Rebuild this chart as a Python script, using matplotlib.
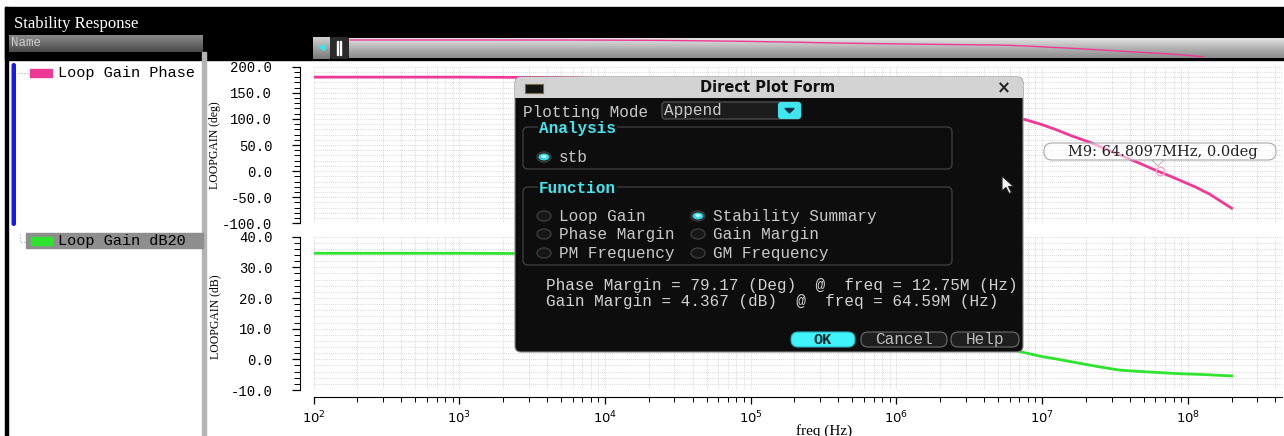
import numpy as np
import matplotlib.pyplot as plt
from matplotlib.patches import Rectangle, FancyBboxPatch, Ellipse, Polygon
from matplotlib.colors import LinearSegmentedColormap
from matplotlib.ticker import MultipleLocator, LogLocator, NullFormatter, FormatStrFormatter

# stb解析の結果
phase_freq = [1e2, 1e3, 3.16e3, 6.31e3, 1e4, 2.0e4, 3.98e4, 1e5, 2.0e5, 3.98e5,
              1e6, 2.0e6, 3.98e6, 6.31e6, 7.59e6, 1e7, 1.26e7, 1.58e7, 2.09e7,
              2.82e7, 3.55e7, 4.68e7, 6.03e7, 7.94e7, 1.12e8, 1.41e8, 2.0e8]
phase_deg = [180, 180, 179.5, 178.5, 177, 174, 168, 157, 146, 134,
             122, 115, 108, 103, 99, 89, 79, 68, 56,
             41, 29, 15, 1.5, -12, -30, -44, -71]

gain_freq = [1e2, 1e3, 3.16e3, 1e4, 3.16e4, 1e5, 2.0e5, 3.98e5, 1e6, 2.0e6, 3.98e6,
             7.08e6, 1e7, 1.26e7, 1.82e7, 2.51e7, 3.39e7, 4.47e7, 6.31e7, 8.91e7, 1.2e8, 2.0e8]
gain_db = [34.6, 34.6, 34.5, 34.3, 33.5, 31, 28.5, 25, 18.5, 13, 6.5,
           2.5, 0.9, 0.1, -1.3, -2.5, -3.5, -3.9, -4.3, -4.7, -4.9, -5.4]

phase_ticks = [-100, -50, 0, 50, 100, 150, 200]
gain_ticks = [-10, 0, 10, 20, 30, 40]

marker_freq = 64.8097e6
marker_deg = 0.0
pm_deg, pm_freq = 79.17, "12.75M"
gm_db, gm_freq = 4.367, "64.59M"

trace_names = ["Loop Gain Phase", "Loop Gain dB20"]
func_left = ["Loop Gain", "Phase Margin", "PM Frequency"]
func_right = ["Stability Summary", "Gain Margin", "GM Frequency"]

PINK = "#ee3a96"
GREEN = "#2ee42e"
CYAN = "#3fe6ef"
MONO = "Liberation Mono"
SERIF = "Liberation Serif"

W, H = 1284, 436
fig = plt.figure(figsize=(W / 100, H / 100), dpi=100)


def frac(x0, y0, x1, y1):
    # ピクセル座標(左上原点) -> figure座標
    return [x0 / W, 1 - y1 / H, (x1 - x0) / W, (y1 - y0) / H]


def grad(ax, x0, y0, x1, y1, colors, z=1):
    cm = LinearSegmentedColormap.from_list("g", colors)
    ax.imshow(np.linspace(0, 1, 40).reshape(-1, 1), extent=(x0, x1, y1, y0),
              cmap=cm, aspect="auto", zorder=z, interpolation="bilinear")


bg = fig.add_axes([0, 0, 1, 1], zorder=0)
ov = fig.add_axes([0, 0, 1, 1], zorder=5)

# ===== ウィンドウの枠 =====
bg.add_patch(Rectangle((5, 7), W - 5, 53, color="black"))
bg.add_patch(Rectangle((5, 7), 3, H - 7, color="black"))
bg.text(14, 24, "Stability Response", color="white", family=SERIF, size=12, va="center")
grad(bg, 9, 35, 203, 52, ["#8a8a8a", "#4a4a4a"])
bg.text(11, 43, "Name", color="#d0d0d0", family=MONO, size=9, va="center")
bg.add_patch(Rectangle((202, 52), 4, H - 52, color="#b4b4b4"))

# 凡例パネル
bg.add_patch(FancyBboxPatch((11.5, 63), 4.5, 163, boxstyle="round,pad=0,rounding_size=2.2",
                            fc="#1a1ae6", ec="none"))
bg.plot([18, 28], [73, 73], ":", color="#aaaaaa", lw=0.8)
bg.plot([20, 20, 26], [234, 242, 242], ":", color="#aaaaaa", lw=0.8)
bg.add_patch(Rectangle((30, 69), 22, 8, color=PINK))
bg.text(58, 73.5, trace_names[0], family=MONO, size=11, va="center", color="black")
bg.add_patch(Rectangle((26, 233), 177, 15, color="#8e8e8e"))
bg.add_patch(Rectangle((31, 237), 21, 8, color=GREEN))
bg.text(58, 241, trace_names[1], family=MONO, size=11, va="center", color="black")

# スクロールバー
grad(bg, 313, 37, 330, 59, ["#d0d0d0", "#7a7a7a"])
bg.add_patch(Polygon([(319, 47.5), (325, 44.5), (325, 50.5)], color="#40e0f0"))
bg.add_patch(FancyBboxPatch((330, 37), 19, 22, boxstyle="round,pad=0,rounding_size=3",
                            fc="#2a2a2a", ec="none"))
bg.add_patch(Rectangle((336.5, 41), 1.6, 14, color="white"))
bg.add_patch(Rectangle((339.5, 41), 1.6, 14, color="white"))
grad(bg, 349, 38, W, 58, ["#e2e2e2", "#b4b4b4", "#8c8c8c"])

for a in (bg, ov):
    a.set_xlim(0, W)
    a.set_ylim(H, 0)
    a.axis("off")

sc = fig.add_axes(frac(330, 37, W, 59), zorder=2)
sc.set_xscale("log")
sc.plot(phase_freq, phase_deg, color=PINK, lw=1)
sc.set_xlim(10 ** 1.85, 10 ** 8.9)
sc.set_ylim(-106, 225)
sc.axis("off")

# ===== グラフ本体 =====
ax1 = fig.add_axes(frac(313.5, 66.7, 1282, 223.3), zorder=1)
ax2 = fig.add_axes(frac(313.5, 236.7, 1282, 390), zorder=1)

ax1.plot(phase_freq, phase_deg, color=PINK, lw=2)
ax2.plot(gain_freq, gain_db, color=GREEN, lw=2)
ax1.plot([marker_freq], [marker_deg], "o", mfc="none", mec="#f4a8cc", ms=6, mew=1)

for ax, ticks, minor in ((ax1, phase_ticks, 10), (ax2, gain_ticks, 2)):
    ax.set_xscale("log")
    ax.set_xlim(1e2, 10 ** 8.647)
    ax.set_ylim(ticks[0], ticks[-1])
    ax.set_yticks(ticks)
    ax.yaxis.set_major_formatter(FormatStrFormatter("%.1f"))
    ax.yaxis.set_minor_locator(MultipleLocator(minor))
    ax.xaxis.set_major_locator(LogLocator(base=10))
    ax.xaxis.set_minor_locator(LogLocator(base=10, subs=np.arange(2, 10)))
    ax.xaxis.set_minor_formatter(NullFormatter())
    ax.set_facecolor("none")
    for s in ("top", "right"):
        ax.spines[s].set_visible(False)
    ax.spines["left"].set_position(("outward", 9.7))
    ax.tick_params(axis="y", which="major", length=6, width=0.9, pad=14,
                   labelsize=10, labelfontfamily=MONO)
    ax.tick_params(axis="y", which="minor", length=4, width=0.7)
    ax.grid(True, which="both", color="#b4b4b4", linestyle=(0, (1, 2)), linewidth=0.5)

ax1.spines["bottom"].set_visible(False)
ax1.tick_params(axis="x", which="both", bottom=False, labelbottom=False)
ax2.spines["bottom"].set_position(("outward", 5))
ax2.tick_params(axis="x", which="major", length=5, width=0.9, pad=4, labelsize=9.5)
ax2.tick_params(axis="x", which="minor", length=3.5, width=0.7)

ov.text(215, 145.5, "LOOPGAIN (deg)", rotation=90, ha="center", va="center", family=SERIF, size=8.5)
ov.text(215, 316.7, "LOOPGAIN (dB)", rotation=90, ha="center", va="center", family=SERIF, size=8.5)
ov.text(824, 431, "freq (Hz)", ha="center", va="center", family=SERIF, size=11)

# マーカーのラベル
ov.add_patch(FancyBboxPatch((1044, 143), 232, 17, boxstyle="round,pad=0,rounding_size=8",
                            fc=(1, 1, 1, 0.6), ec="#a8a8a8", lw=0.8))
ov.add_patch(Polygon([(1152, 160), (1164, 160), (1158, 166)], fc=(1, 1, 1, 0.6), ec="#a8a8a8", lw=0.6))
ov.text(1068, 152, f"M9: {marker_freq / 1e6:.4f}MHz, {marker_deg:.1f}deg",
        family="DejaVu Serif", size=10.5, va="center", color="#202020")

# ===== Direct Plot Form ダイアログ =====
dx0, dy0, dx1, dy1 = 515, 77, 1023, 352
ov.add_patch(FancyBboxPatch((dx0, dy0), dx1 - dx0, dy1 - dy0, boxstyle="round,pad=0,rounding_size=6",
                            fc="#0d0d0d", ec="#8a8a8a", lw=0.8))
ov.add_patch(FancyBboxPatch((dx0, dy0), dx1 - dx0, 21, boxstyle="round,pad=0,rounding_size=6",
                            fc="#d3d3d3", ec="none"))
ov.add_patch(Rectangle((dx0, dy0 + 10), dx1 - dx0, 11, fc="#d3d3d3", ec="none"))
ov.add_patch(Rectangle((525, 84), 18, 9, fc="#141414", ec="#7a6a4a", lw=0.8))
ov.text(768, 88, "Direct Plot Form", family="DejaVu Sans", weight="bold", size=10.5,
        ha="center", va="center", color="#111111")
ov.text(1004, 88.5, "×", family="DejaVu Sans", weight="bold", size=12, ha="center", va="center", color="#222222")

TXT = "#c9c9c9"
ov.text(523, 112, "Plotting Mode", family=MONO, size=11.5, va="center", color=TXT)
ov.add_patch(FancyBboxPatch((662, 102), 139, 17, boxstyle="round,pad=0,rounding_size=3",
                            fc="#1c1c1c", ec="#5a5a5a", lw=0.8))
ov.add_patch(FancyBboxPatch((778, 102), 23, 17, boxstyle="round,pad=0,rounding_size=3",
                            fc=CYAN, ec="none"))
ov.add_patch(Polygon([(785, 108.5), (794, 108.5), (789.5, 113)], color="#123040"))
ov.text(664, 110.5, "Append", family=MONO, size=11.5, va="center", color=TXT)


def group(y0, y1, label):
    ov.add_patch(FancyBboxPatch((523, y0), 429, y1 - y0, boxstyle="round,pad=0,rounding_size=5",
                                fc="none", ec="#3c3c3c", lw=1))
    ov.text(539, y0 + 1, label, family=MONO, weight="bold", size=11.5, va="center", color=CYAN,
            bbox=dict(fc="#0d0d0d", ec="none", pad=1))


def radio(x, y, text, on):
    ov.add_patch(Ellipse((x, y), 14, 10, fc="#161616", ec="#3c3c3c", lw=1))
    if on:
        ov.add_patch(Ellipse((x, y), 11, 7, fc="#36d6e6", ec="none"))
        ov.add_patch(Ellipse((x, y - 0.5), 5, 3, fc="#c8ffff", ec="none"))
    ov.text(x + 15, y, text, family=MONO, size=11.5, va="center", color=TXT)


group(127, 169, "Analysis")
radio(544, 157, "stb", True)
group(187, 265, "Function")
for i, y in enumerate([216, 234, 253]):
    radio(544, y, func_left[i], False)
    radio(698, y, func_right[i], func_right[i] == "Stability Summary")

ov.text(546, 285, f"Phase Margin = {pm_deg:.2f} (Deg)  @  freq = {pm_freq} (Hz)",
        family=MONO, size=11.5, va="center", color="#d2d2d2")
ov.text(546, 301.5, f"Gain Margin = {gm_db:.3f} (dB)  @  freq = {gm_freq} (Hz)",
        family=MONO, size=11.5, va="center", color="#d2d2d2")

ov.add_patch(FancyBboxPatch((791, 332), 64, 15, boxstyle="round,pad=0,rounding_size=7",
                            fc="#40f2fa", ec="#2aaab8", lw=0.8))
ov.text(823, 339.5, "OK", family=MONO, weight="bold", size=11, ha="center", va="center", color="#0a2a30")
for x0, w, lab in ((861, 86, "Cancel"), (951, 68, "Help")):
    ov.add_patch(FancyBboxPatch((x0, 332), w, 15, boxstyle="round,pad=0,rounding_size=7",
                                fc="#1e1e1e", ec="#6e6e6e", lw=0.8))
    ov.text(x0 + w / 2, 339.5, lab, family=MONO, size=11.5, ha="center", va="center", color="#bdbdbd")

# マウスカーソル
cx, cy = 1002, 176
arrow = [(0, 0), (0, 15), (4, 11.5), (7, 17.5), (9.5, 16.5), (6.5, 10.5), (11.5, 10.5)]
ov.add_patch(Polygon([(cx + a, cy + b) for a, b in arrow], fc="#f2f2f2", ec="#222222", lw=0.8))

ov.set_xlim(0, W)
ov.set_ylim(H, 0)
bg.set_xlim(0, W)
bg.set_ylim(H, 0)

fig.savefig("out.png", dpi=100)
